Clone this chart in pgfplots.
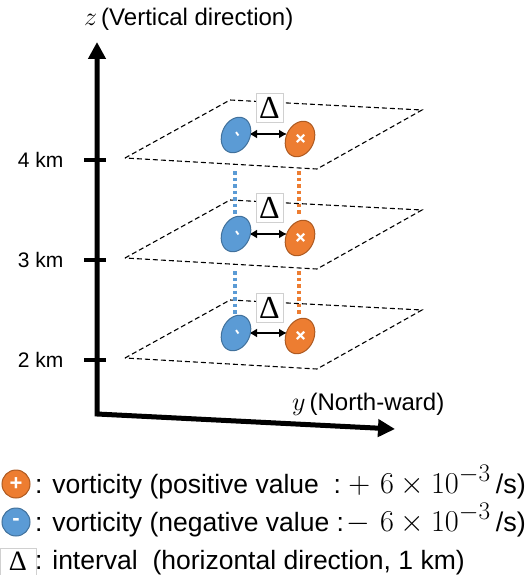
\documentclass[border=0pt]{standalone}
\usepackage{graphicx}
\usepackage{pgfplots}
\pgfplotsset{compat=1.18}
\usepackage{fontspec}
\setmainfont{Liberation Sans}
\newfontfamily\deltafont{Liberation Serif}
\usetikzlibrary{arrows.meta}
\definecolor{vblue}{HTML}{5B9BD5}
\definecolor{vblueE}{HTML}{41719C}
\definecolor{vorange}{HTML}{ED7D31}
\definecolor{vorangeE}{HTML}{AE5A21}
\definecolor{boxgray}{HTML}{D0D0D0}
\newcommand{\bigmath}[2]{{\fontsize{24.88}{25}\selectfont\scalebox{#1}{$#2$}}}
\begin{document}
\begin{tikzpicture}
\begin{axis}[name=ax, width=531pt, height=575pt, scale only axis,
  xmin=0, xmax=531, ymin=0, ymax=575, y dir=reverse, hide axis, clip=false]
% planes
\addplot[black, line width=1.1pt, dash pattern=on 5pt off 3pt] coordinates {(125,158) (230,100) (422,110) (317,169) (125,158)};
\addplot[black, line width=1.1pt, dash pattern=on 5pt off 3pt] coordinates {(125,258) (230,200) (422,210) (317,269) (125,258)};
\addplot[black, line width=1.1pt, dash pattern=on 5pt off 3pt] coordinates {(125,358) (230,300) (422,310) (317,369) (125,358)};
% dotted connectors
\addplot[vblue, line width=3.5pt, dash pattern=on 3.5pt off 3pt] coordinates {(235,171) (235,214)};
\addplot[vblue, line width=3.5pt, dash pattern=on 3.5pt off 3pt] coordinates {(235,271) (235,314)};
\addplot[vorange, line width=3.5pt, dash pattern=on 3.5pt off 3pt] coordinates {(299,171) (299,214)};
\addplot[vorange, line width=3.5pt, dash pattern=on 3.5pt off 3pt] coordinates {(299,271) (299,314)};
% delta boxes
\addplot[fill=white, draw=boxgray, line width=0.6pt] coordinates {(256,93) (283,93) (283,122) (256,122) (256,93)};
\addplot[fill=white, draw=boxgray, line width=0.6pt] coordinates {(256,193) (283,193) (283,222) (256,222) (256,193)};
\addplot[fill=white, draw=boxgray, line width=0.6pt] coordinates {(256,293) (283,293) (283,322) (256,322) (256,293)};
\node[font=\fontsize{32}{32}\selectfont\deltafont, inner sep=0pt] at (axis cs:269.5,108) {Δ};
\node[font=\fontsize{32}{32}\selectfont\deltafont, inner sep=0pt] at (axis cs:269.5,208) {Δ};
\node[font=\fontsize{32}{32}\selectfont\deltafont, inner sep=0pt] at (axis cs:269.5,308) {Δ};
% double arrows
\addplot[black, line width=2.2pt, {Latex[length=8pt,width=9pt]}-{Latex[length=8pt,width=9pt]}] coordinates {(249,134) (287,134)};
\addplot[black, line width=2.2pt, {Latex[length=8pt,width=9pt]}-{Latex[length=8pt,width=9pt]}] coordinates {(249,234) (287,234)};
\addplot[black, line width=2.2pt, {Latex[length=8pt,width=9pt]}-{Latex[length=8pt,width=9pt]}] coordinates {(249,333) (287,333)};
% vortices
\addplot[only marks, mark=*, mark size=18.5pt, mark options={fill=vblue, draw=vblueE, line width=1pt, rotate=-25, xscale=0.75},
  nodes near coords={\textbf{-}}, every node near coord/.append style={anchor=center, white, rotate=-55, font=\fontsize{17}{17}\selectfont}]
  coordinates {(236,135) (236,234) (236,333)};
\addplot[only marks, mark=*, mark size=18.5pt, mark options={fill=vorange, draw=vorangeE, line width=1pt, rotate=-25, xscale=0.75},
  nodes near coords={\textbf{+}}, every node near coord/.append style={anchor=center, white, rotate=-45, font=\fontsize{21}{21}\selectfont}]
  coordinates {(300,139) (300,238) (300,336)};
% axes
\addplot[black, line width=5pt, line join=miter, {Triangle[length=17pt,width=17pt]}-{Triangle[length=17pt,width=17pt]}] coordinates {(97,42) (97,414) (395,429)};
\addplot[black, line width=3.5pt] coordinates {(84,160) (106,160)};
\addplot[black, line width=3.5pt] coordinates {(84,260) (106,260)};
\addplot[black, line width=3.5pt] coordinates {(84,360) (106,360)};
\node[anchor=east, font=\fontsize{21}{21}\selectfont] at (axis cs:67,160) {4 km};
\node[anchor=east, font=\fontsize{21}{21}\selectfont] at (axis cs:67,260) {3 km};
\node[anchor=east, font=\fontsize{21}{21}\selectfont] at (axis cs:67,360) {2 km};
\node[anchor=base west, font=\fontsize{24}{24}\selectfont, inner sep=0pt] at (axis cs:84,26) {\bigmath{1.05}{z}\,(Vertical direction)};
\node[anchor=base west, font=\fontsize{24}{24}\selectfont, inner sep=0pt] at (axis cs:292,410) {\bigmath{1.05}{y}\,(North-ward)};
% legend
\addplot[only marks, mark=*, mark size=14pt, mark options={fill=vorange, draw=vorangeE, line width=1pt},
  nodes near coords={\textbf{+}}, every node near coord/.append style={anchor=center, white, font=\fontsize{22}{22}\selectfont}] coordinates {(16,484)};
\addplot[only marks, mark=*, mark size=14pt, mark options={fill=vblue, draw=vblueE, line width=1pt},
  nodes near coords={\textbf{-}}, every node near coord/.append style={anchor=center, white, font=\fontsize{22}{22}\selectfont}] coordinates {(16,522)};
\addplot[fill=white, draw=boxgray, line width=0.6pt] coordinates {(0.5,548) (36,548) (36,580) (0.5,580) (0.5,548)};
\node[font=\fontsize{28}{28}\selectfont\deltafont, inner sep=0pt] at (axis cs:18,561) {Δ};
\node[anchor=base west, font=\fontsize{26.5}{26.5}\selectfont, inner sep=0pt] at (axis cs:35,493) {: vorticity (positive value\ \ :};
\node[anchor=base east, font=\fontsize{27}{27}\selectfont, inner sep=0pt] at (axis cs:526,493) {\bigmath{1.22}{+\hspace{8pt}6\times10^{-3}}\hspace{5pt}/s)};
\node[anchor=base west, font=\fontsize{26.5}{26.5}\selectfont, inner sep=0pt] at (axis cs:35,531) {: vorticity (negative value :};
\node[anchor=base east, font=\fontsize{27}{27}\selectfont, inner sep=0pt] at (axis cs:526,531) {\bigmath{1.22}{-\hspace{8pt}6\times10^{-3}}\hspace{5pt}/s)};
\node[anchor=base west, font=\fontsize{26.5}{26.5}\selectfont, inner sep=0pt] at (axis cs:35,569) {: interval\ \ (horizontal direction, 1 km)};
\end{axis}
\pgfresetboundingbox
\path (ax.south west) rectangle (ax.north east);
\end{tikzpicture}
\end{document}
